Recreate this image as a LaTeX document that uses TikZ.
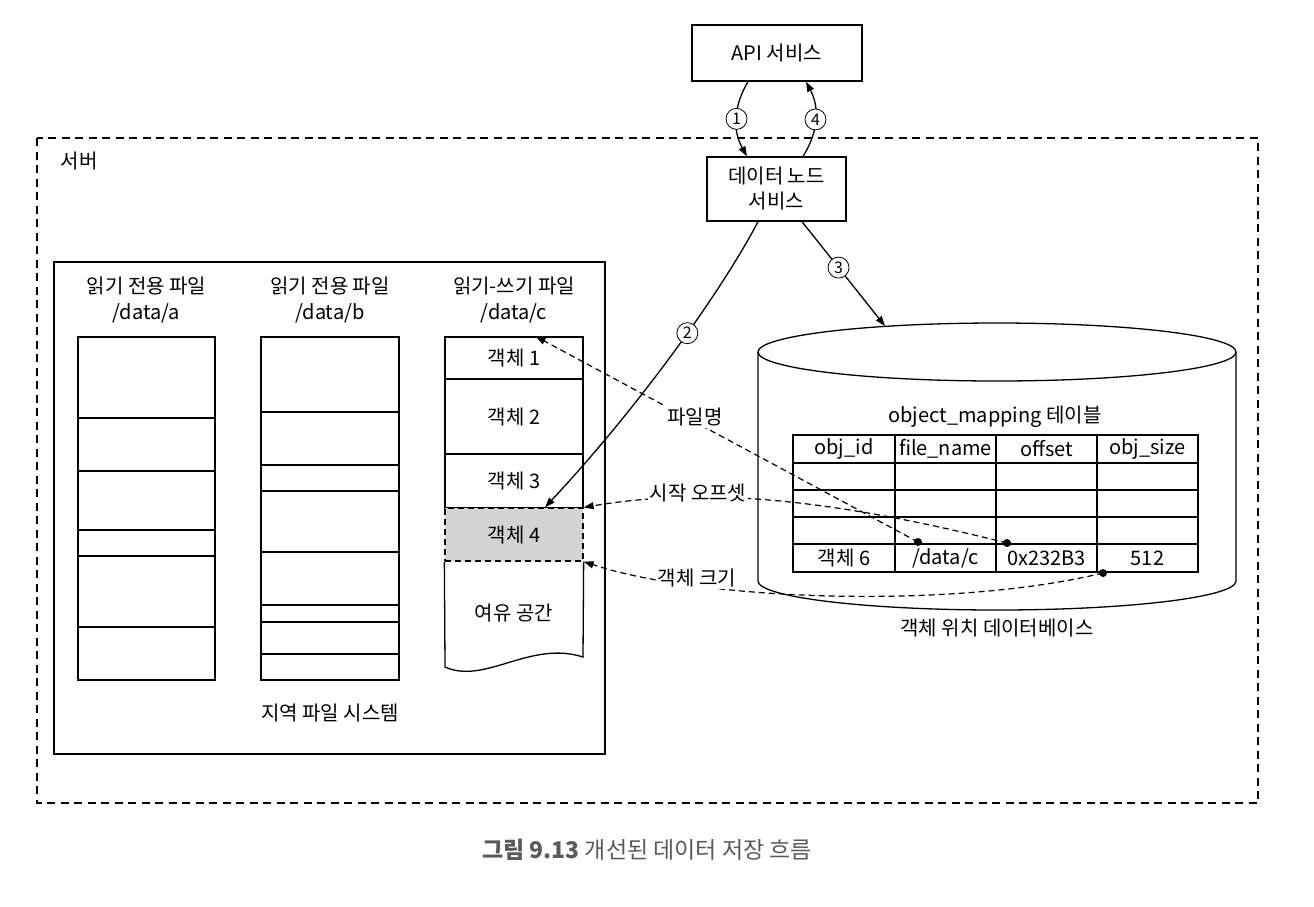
\documentclass[tikz,border=0pt]{standalone}
\usepackage{fontspec}
\setmainfont{Noto Sans CJK KR}
\usetikzlibrary{arrows.meta,calc}
\definecolor{objgray}{RGB}{211,211,211}
\definecolor{capgray}{RGB}{90,90,90}
\begin{document}
\begin{tikzpicture}[x=1pt,y=-1pt,line width=1.3pt,
  every node/.style={font=\fontsize{20}{24}\selectfont, inner sep=0pt},
  svcbox/.style={draw, rectangle, align=center},
  objbox/.style={draw, rectangle, minimum width=138pt},
  arr/.style={-{Triangle[length=10pt,width=7pt]}},
  dline/.style={dash pattern=on 6pt off 4pt, line width=1.2pt},
  serverline/.style={dash pattern=on 8pt off 5.5pt, line width=1.2pt},
  numcirc/.style={circle, draw, fill=white, minimum size=21pt, inner sep=0pt,
    line width=0.8pt, font=\fontsize{16}{16}\selectfont},
  dot/.style={circle, fill=black, minimum size=8pt, inner sep=0pt},
  lbl/.style={fill=white, inner sep=2pt},
  head/.style={align=center, font=\fontsize{20}{26}\selectfont}]
\useasboundingbox (0,0) rectangle (1314,906);

% server boundary
\draw[serverline] (37,138) rectangle (1258,803);
\node[anchor=west] (server) at (60,161) {서버};

% services
\node[svcbox, minimum width=170pt, minimum height=56pt] (api) at (777,53) {API 서비스};
\node[svcbox, minimum width=139pt, minimum height=64pt,
  font=\fontsize{20}{25}\selectfont] (dn) at (776.5,189) {데이터 노드\\서비스};

% local file system
\draw (54,262) rectangle (605,754);
\node (lfs) at (330,713) {지역 파일 시스템};

% read-only file /data/a
\node[head] (ha) at (146.5,300) {읽기 전용 파일\\/data/a};
\draw (78,337) rectangle (215,680);
\foreach \y in {418,471,530,556,627} \draw (78,\y) -- (215,\y);

% read-only file /data/b
\node[head] (hb) at (330,300) {읽기 전용 파일\\/data/b};
\draw (261,337) rectangle (399,680);
\foreach \y in {412,465,491,552,605,622,654} \draw (261,\y) -- (399,\y);

% read-write file /data/c
\node[head] (hc) at (514,300) {읽기-쓰기 파일\\/data/c};
\node[objbox, minimum height=42pt] (obj1) at (514,358) {객체 1};
\node[objbox, minimum height=75pt] (obj2) at (514,416.5) {객체 2};
\node[objbox, minimum height=54pt] (obj3) at (514,481) {객체 3};
\node[objbox, minimum height=53pt, fill=objgray, dash pattern=on 6pt off 4pt] (obj4) at (514,534.5) {객체 4};
\draw (obj4.south east) -- (583,657) .. controls (530,640) and (485,685) .. (445,667) -- (obj4.south west);
\node (free) at (514,613) {여유 공간};

% object location database
\draw[fill=white] (758,352) -- (758,581) arc[start angle=180,end angle=360,x radius=239pt,y radius=29pt] -- (1236,352);
\draw (997,352) ellipse [x radius=239pt, y radius=29pt];
\coordinate (dbtop) at (885,326);
\node (dblabel) at (997,628) {객체 위치 데이터베이스};
\node (tbltitle) at (995,417) {object\_mapping 테이블};

% mapping table
\draw (793,435) rectangle (1198,572);
\foreach \x in {895,996,1097} \draw (\x,435) -- (\x,572);
\foreach \y in {463,490,517,544} \draw (793,\y) -- (1198,\y);
\node (c11) at (844,449) {obj\_id};
\node (c12) at (945.5,449) {file\_name};
\node (c13) at (1046.5,449) {offset};
\node (c14) at (1147.5,449) {obj\_size};
\node (c51) at (844,558) {객체 6};
\node (c52) at (945.5,558) {/data/c};
\node (c53) at (1046.5,558) {0x232B3};
\node (c54) at (1147.5,558) {512};

% request flow
\draw[arr] ([xshift=-29pt]api.south) to[bend right=30] node[numcirc] (n1) {1} ([xshift=-29.5pt]dn.north);
\draw[arr] ([xshift=26.5pt]dn.north) to[bend right=30] node[numcirc] (n4) {4} ([xshift=29pt]api.south);
\draw[arr] ([xshift=-18.5pt]dn.south) .. controls (725,285) and (645,400) .. node[numcirc, pos=0.45] (n2) {2} ([xshift=31pt]obj4.north);
\draw[arr] ([xshift=25.5pt]dn.south) -- node[numcirc, pos=0.44] (n3) {3} (dbtop);

% references from the table row into /data/c
\coordinate (d1) at (918,542);
\coordinate (d2) at (1007,543);
\coordinate (d3) at (1103,573);
\draw[dline, arr] (d1) -- ([xshift=-48pt]obj1.north east);
\draw[dline, arr] (d2) .. controls (820,496) and (700,488) .. (obj4.north east);
\draw[dline, arr] (d3) .. controls (950,610) and (700,600) .. (obj4.south east);
\node[lbl] (lfile) at (695,417) {파일명};
\node[lbl] (loff) at (698,493) {시작 오프셋};
\node[lbl] (lsize) at (697,578) {객체 크기};
\node[dot] (p1) at (d1) {};
\node[dot] (p2) at (d2) {};
\node[dot] (p3) at (d3) {};

% caption
\node[text=capgray, font=\fontsize{23}{23}\selectfont] (cap) at (647,850) {\textbf{그림 9.13} 개선된 데이터 저장 흐름};
\end{tikzpicture}
\end{document}
